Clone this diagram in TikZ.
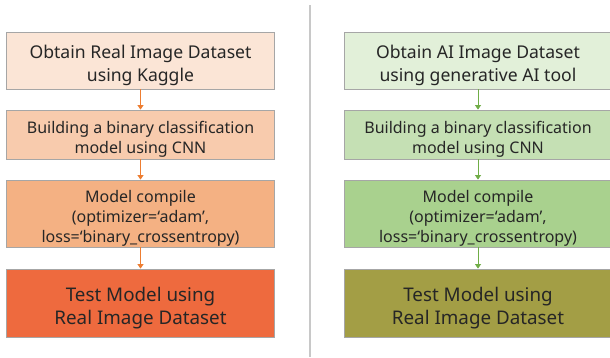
\documentclass[tikz,border=0pt]{standalone}
\usepackage{fontspec}
\setmainfont{Noto Sans}
\usetikzlibrary{arrows.meta}
\definecolor{lA}{HTML}{FBE5D6}
\definecolor{lB}{HTML}{F8CBAD}
\definecolor{lC}{HTML}{F4B183}
\definecolor{lD}{HTML}{EE6A3E}
\definecolor{rA}{HTML}{E2F0D9}
\definecolor{rB}{HTML}{C5E0B4}
\definecolor{rC}{HTML}{A9D18E}
\definecolor{rD}{HTML}{A39E45}
\definecolor{bordergray}{HTML}{A6A6A6}
\definecolor{arrOr}{HTML}{ED7D31}
\definecolor{arrGr}{HTML}{70AD47}
\definecolor{divgray}{HTML}{C8C8C8}
\tikzset{
  x=1pt,y=-1pt,
  stepbox/.style={draw=bordergray, line width=0.8pt, minimum width=268pt, inner sep=0pt, align=center, text=black!85},
  flowor/.style={draw=arrOr, line width=0.8pt, -{Triangle[width=6pt,length=4.5pt]}},
  flowgr/.style={draw=arrGr, line width=0.8pt, -{Triangle[width=6pt,length=4.5pt]}},
  tA/.style={font=\fontsize{17.6}{23}\selectfont},
  tB/.style={font=\fontsize{16}{20}\selectfont},
  tC/.style={font=\fontsize{16}{20}\selectfont},
  tD/.style={font=\fontsize{18.8}{22.5}\selectfont},
}
\newcommand{\downstrut}{\rule{0pt}{1.32em}}
\begin{document}
\begin{tikzpicture}
\useasboundingbox (0,0) rectangle (610,357);
\clip (0,0) rectangle (610,357);
\fill[white] (0,0) rectangle (610,357);
\draw[divgray, line width=1.8pt] (310,5) -- (310,357);
% left column
\node[stepbox, fill=lA, minimum height=57pt, tA] (l1) at (140.5,60.5) {\downstrut Obtain Real Image Dataset\\using Kaggle};
\node[stepbox, fill=lB, minimum height=49pt, tB] (l2) at (140.5,134.5) {\downstrut Building a binary classification\\model using CNN};
\node[stepbox, fill=lC, minimum height=67pt, tC] (l3) at (140.5,213.5) {\downstrut Model compile\\(optimizer=‘adam’,\\loss=‘binary\_crossentropy)};
\node[stepbox, fill=lD, minimum height=68pt, tD] (l4) at (140.5,303) {\downstrut Test Model using\\Real Image Dataset};
\draw[flowor] (l1) -- (l2);
\draw[flowor] (l2) -- (l3);
\draw[flowor] (l3) -- (l4);
% right column
\node[stepbox, fill=rA, minimum height=57pt, tA] (r1) at (478,60.5) {\downstrut Obtain AI Image Dataset\\using generative AI tool};
\node[stepbox, fill=rB, minimum height=49pt, tB] (r2) at (478,134.5) {\downstrut Building a binary classification\\model using CNN};
\node[stepbox, fill=rC, minimum height=67pt, tC] (r3) at (478,213.5) {\downstrut Model compile\\(optimizer=‘adam’,\\loss=‘binary\_crossentropy)};
\node[stepbox, fill=rD, minimum height=68pt, tD] (r4) at (478,303) {\downstrut Test Model using\\Real Image Dataset};
\draw[flowgr] (r1) -- (r2);
\draw[flowgr] (r2) -- (r3);
\draw[flowgr] (r3) -- (r4);
\end{tikzpicture}
\end{document}
